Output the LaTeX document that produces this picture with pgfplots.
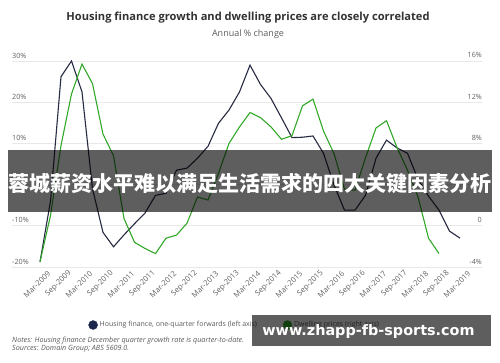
\documentclass[border=0pt]{standalone}
\usepackage{pgfplots}
\pgfplotsset{compat=1.18}
\usepackage{fontspec}
\setmainfont{Open Sans}
\newfontfamily\cjk{Noto Sans CJK SC}
\newfontfamily\wm{DejaVu Sans}
\definecolor{navyline}{RGB}{38,42,66}
\definecolor{navyleg}{RGB}{28,40,75}
\definecolor{greenline}{RGB}{50,168,40}
\definecolor{gridc}{RGB}{232,232,232}
\definecolor{tickc}{RGB}{95,95,95}
\definecolor{titlec}{RGB}{50,50,50}
\definecolor{subc}{RGB}{90,90,90}
\begin{document}
\begin{tikzpicture}
\path[use as bounding box] (0pt,0pt) rectangle (500pt,362pt);
\begin{axis}[
  at={(12pt,95pt)}, anchor=south west, scale only axis,
  width=470pt, height=206pt,
  xmin=-2.667, xmax=42.095, ymin=-20, ymax=30,
  axis line style={draw=none}, major tick length=0pt,
  ytick={-20,-10,0,10,20,30},
  yticklabels={-20\%,-10\%,0\%,10\%,20\%,30\%},
  yticklabel style={anchor=base west, inner sep=0pt, xshift=0pt, yshift=3pt, font=\fontsize{7.2}{8}\selectfont, text=tickc},
  ymajorgrids, grid style={gridc, line width=0.8pt},
  xtick={0,2,...,40},
  xticklabels={Mar-2009,Sep-2009,Mar-2010,Sep-2010,Mar-2011,Sep-2011,Mar-2012,Sep-2012,Mar-2013,Sep-2013,Mar-2014,Sep-2014,Mar-2015,Sep-2015,Mar-2016,Sep-2016,Mar-2017,Sep-2017,Mar-2018,Sep-2018,Mar-2019},
  xticklabel style={rotate=45, anchor=east, inner sep=0pt, xshift=3pt, yshift=-10pt, font=\fontsize{7.6}{8}\selectfont, text=tickc},
  clip=false,
]
\addplot[navyline, line width=1.1pt] coordinates {
(0,-18.8) (1,-4) (2,26.2) (3,30) (4,22.5) (5,-1) (6,-11.6) (7,-15.1) (8,-12.2) (9,-9.5)
(10,-6.9) (11,-2.6) (12,-2.1) (13,3.5) (14,4.0) (15,6.4) (16,9.3) (17,14.9) (18,18.1) (19,22.5)
(20,29.0) (21,24.3) (22,20.9) (23,16.2) (24,11.4) (25,11.5) (26,11.8) (27,7.6) (28,-0.1) (29,-6.2)
(30,-6.2) (31,-2.6) (32,6.4) (33,10.8) (34,8.9) (35,7.6) (36,1.3) (37,-2.8) (38,-6.2) (39,-11.3)
(40,-13.0)
};
\end{axis}
\begin{axis}[
  at={(12pt,95pt)}, anchor=south west, scale only axis,
  width=470pt, height=206pt,
  xmin=-2.667, xmax=42.095, ymin=-4, ymax=16,
  axis line style={draw=none}, major tick length=0pt,
  xtick=\empty,
  ytick={-4,0,4,8,12,16},
  yticklabels={-4\%,0,4\%,8\%,12\%,16\%},
  yticklabel pos=right,
  yticklabel style={anchor=base east, inner sep=0pt, xshift=0pt, yshift=3pt, font=\fontsize{7.2}{8}\selectfont, text=tickc},
  clip=false,
  legend columns=2,
  legend style={at={(axis description cs:0.474,-0.2816)}, anchor=center, draw=none, fill=none,
    font=\fontsize{7}{8}\selectfont, text=subc,
    /tikz/every even column/.append style={column sep=24pt}},
  legend cell align=left,
]
\addplot[greenline, line width=1.1pt, forget plot] coordinates {
(0,-3.5) (1,1.0) (2,7.8) (3,12.8) (4,15.7) (5,13.8) (6,8.9) (7,6.8) (8,0.7) (9,-1.6)
(10,-2.2) (11,-2.7) (12,-1.2) (13,-0.9) (14,0.25) (15,2.8) (16,2.5) (17,5.1) (18,8.0) (19,9.6)
(20,11.0) (21,10.5) (22,9.6) (23,8.4) (24,8.75) (25,11.65) (26,12.3) (27,9.2) (28,7.0) (29,3.55)
(30,3.45) (31,6.6) (32,9.5) (33,10.2) (34,7.6) (35,5.4) (36,2.8) (37,-1.2) (38,-2.7)
};
\addlegendimage{only marks, mark=*, mark size=4.5pt, navyleg}
\addlegendentry{Housing finance, one-quarter forwards (left axis)}
\addlegendimage{only marks, mark=*, mark size=4.5pt, greenline}
\addlegendentry{Dwelling prices (right axis)}
\end{axis}
% title
\node[font=\bfseries\fontsize{11.1}{13}\selectfont, text=titlec] at (248pt,344pt) {Housing finance growth and dwelling prices are closely correlated};
\node[font=\fontsize{9}{11}\selectfont, text=subc] at (248pt,328pt) {Annual \% change};
% notes
\node[anchor=base west, inner sep=0pt, font=\itshape\fontsize{7.2}{8}\selectfont, text=subc] at (12pt,20pt) {Notes: Housing finance December quarter growth rate is quarter-to-date.};
\node[anchor=base west, inner sep=0pt, font=\itshape\fontsize{7.2}{8}\selectfont, text=subc] at (12pt,12pt) {Sources: Domain Group; ABS 5609.0.};
% banner
\fill[black, fill opacity=0.63] (8pt,150pt) rectangle (492pt,212pt);
\node[text=white, font=\cjk\bfseries\fontsize{21}{24}\selectfont] at (250pt,178pt) {蓉城薪资水平难以满足生活需求的四大关键因素分析};
% watermark
\fill[black, fill opacity=0.63] (252pt,16pt) rectangle (491pt,47pt);
\node[text=white, font=\wm\bfseries\fontsize{14.4}{16}\selectfont] at (368.5pt,30pt) {www.zhapp-fb-sports.com};
\end{tikzpicture}
\end{document}
